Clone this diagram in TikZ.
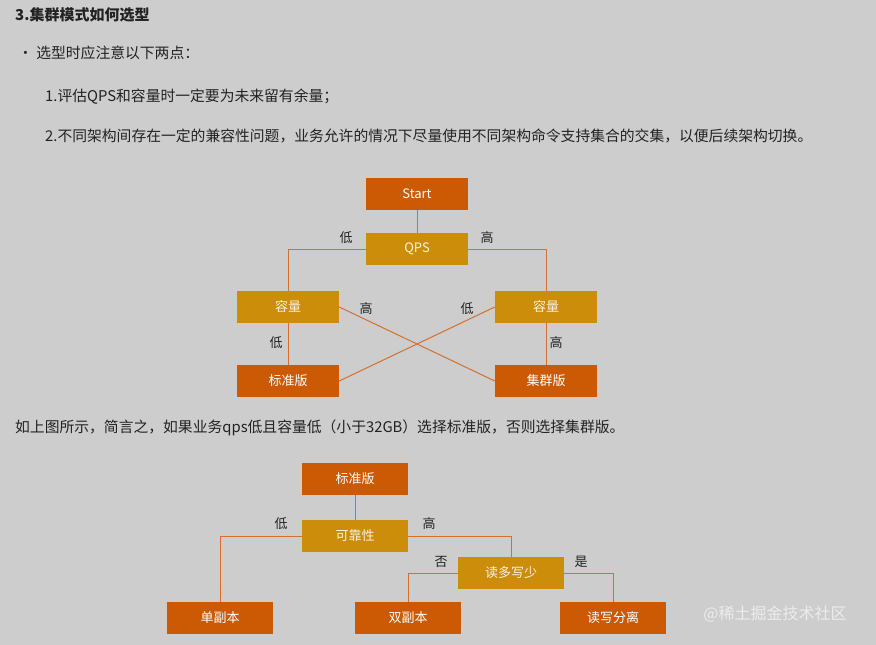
\documentclass[tikz,border=0pt]{standalone}
\usepackage{fontspec}
\setmainfont{Noto Sans CJK SC}
\begin{document}
\begin{tikzpicture}[x=1pt,y=-1pt,
 dk/.style={fill=boxdark,text=white,minimum width=102pt,minimum height=32pt,inner sep=0,font=\fontsize{13}{13}\selectfont},
 gd/.style={fill=boxgold,text=white!88!boxgold,minimum width=102pt,minimum height=32pt,inner sep=0,font=\fontsize{13}{13}\selectfont},
 wd/.style={minimum width=106pt},
 ln/.style={draw=linec,line width=1pt},
 lb/.style={font=\fontsize{13}{13}\selectfont,text=txt},
 tx/.style={anchor=west,font=\fontsize{14.8}{15}\selectfont,text=txt,inner sep=0}]
\definecolor{boxdark}{HTML}{CC5A05}
\definecolor{boxgold}{HTML}{CC8E0A}
\definecolor{linec}{HTML}{D4702E}
\definecolor{txt}{HTML}{222222}
\fill[fill={rgb,255:red,205;green,205;blue,205}] (0,0) rectangle (876,645);
\useasboundingbox (0,0) rectangle (876,645);
\node[tx,font=\bfseries\fontsize{15}{15}\selectfont] at (15,15) {3.集群模式如何选型};
\node[tx] at (18,53) {· 选型时应注意以下两点：};
\node[tx] at (45,97) {1.评估QPS和容量时一定要为未来留有余量；};
\node[tx] at (45,136) {2.不同架构间存在一定的兼容性问题，业务允许的情况下尽量使用不同架构命令支持集合的交集，以便后续架构切换。};
\node[tx] at (15,428) {如上图所示，简言之，如果业务qps低且容量低（小于32GB）选择标准版，否则选择集群版。};
% top diagram
\node[dk] (start) at (417,194) {Start};
\node[gd] (qps) at (417,249) {QPS};
\node[gd] (cl) at (288,307) {容量};
\node[gd] (cr) at (546,307) {容量};
\node[dk] (std) at (288,381) {标准版};
\node[dk] (clu) at (546,381) {集群版};
\draw[ln] (start) -- (qps);
\draw[ln] (qps.west) -| (cl.north);
\draw[ln] (qps.east) -| (cr.north);
\draw[ln] (cl) -- (std);
\draw[ln] (cr) -- (clu);
\draw[ln] (cl.east) -- (clu.west);
\draw[ln] (std.east) -- (cr.west);
\node[lb] at (346,238) {低};
\node[lb] at (487,238) {高};
\node[lb] at (366,309) {高};
\node[lb] at (467,309) {低};
\node[lb] at (276,343) {低};
\node[lb] at (556,343) {高};
% bottom diagram
\node[dk,wd] (std2) at (355,479) {标准版};
\node[gd,wd] (rel) at (355,536) {可靠性};
\node[dk,wd] (one) at (220,618) {单副本};
\node[gd,wd] (rw) at (511,573) {读多写少};
\node[dk,wd] (two) at (408,618) {双副本};
\node[dk,wd] (sep) at (613,618) {读写分离};
\draw[ln] (std2) -- (rel);
\draw[ln] (rel.west) -| (one.north);
\draw[ln] (rel.east) -| (rw.north);
\draw[ln] (rw.west) -| (two.north);
\draw[ln] (rw.east) -| (sep.north);
\node[lb] at (281,524) {低};
\node[lb] at (429,524) {高};
\node[lb] at (441,562) {否};
\node[lb] at (581,562) {是};
\node[font=\fontsize{16}{16}\selectfont,text=white!85!gray] at (775,614) {@稀土掘金技术社区};
\end{tikzpicture}
\end{document}
